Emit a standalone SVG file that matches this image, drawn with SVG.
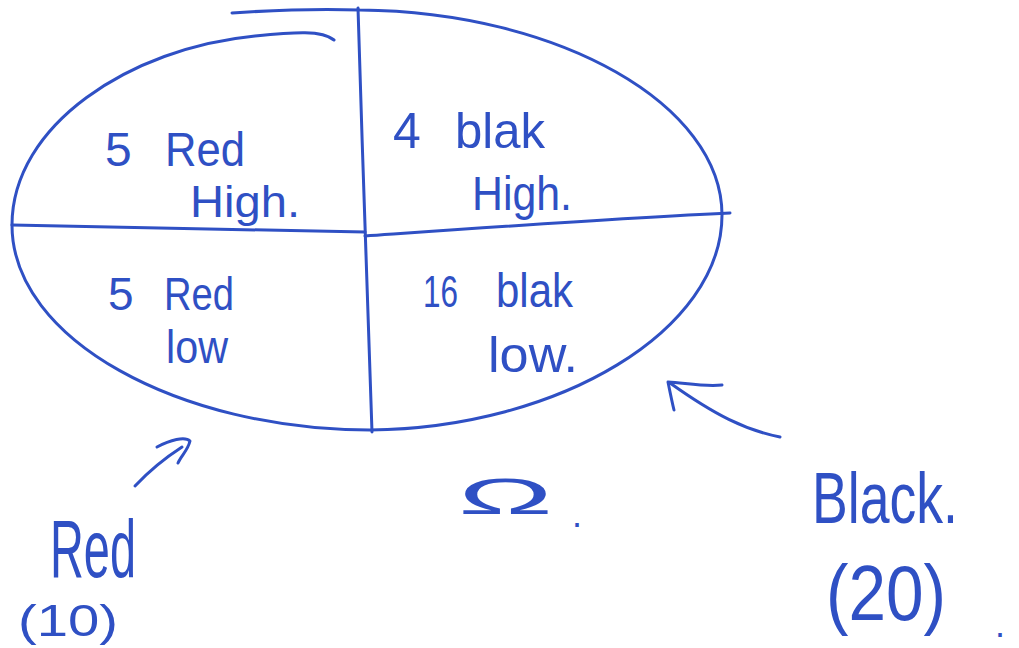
<svg xmlns="http://www.w3.org/2000/svg" width="1019" height="648" viewBox="0 0 1019 648">
<style>
.ink{fill:none;stroke:#2f50c4;stroke-width:3;stroke-linecap:round;stroke-linejoin:round}
.t{fill:#2f50c4;font-family:"Liberation Sans","Noto Sans",sans-serif}
</style>
<rect width="1019" height="648" fill="#ffffff"/>
<g id="ellipse">
<path class="ink" d="M232 13 C290 9 330 9 360 10 C560 12 722 105 722 215 C722 330 560 428 370 430 C180 430 12 340 12 225 C12 125 130 48 255 36 C295 32 322 30 334 40"/>
</g>
<g id="dividers">
<path class="ink" d="M358 8 C362 150 368 300 372 432"/>
<path class="ink" d="M12 225 C120 227 250 230 365 232"/>
<path class="ink" d="M365 236 C480 228 620 218 730 213"/>
</g>
<g id="cell-red-high">
<text class="t" x="105" y="166" font-size="48"><tspan>5</tspan><tspan x="165" textLength="80" lengthAdjust="spacingAndGlyphs">Red</tspan></text>
<text class="t" x="190" y="217" font-size="44" textLength="110" lengthAdjust="spacingAndGlyphs">High.</text>
</g>
<g id="cell-black-high">
<text class="t" x="393" y="148" font-size="50"><tspan>4</tspan><tspan x="455" textLength="90" lengthAdjust="spacingAndGlyphs">blak</tspan></text>
<text class="t" x="472" y="210" font-size="48" textLength="100" lengthAdjust="spacingAndGlyphs">High.</text>
</g>
<g id="cell-red-low">
<text class="t" x="108" y="310" font-size="46"><tspan>5</tspan><tspan x="164" textLength="70" lengthAdjust="spacingAndGlyphs">Red</tspan></text>
<text class="t" x="166" y="363" font-size="46" textLength="62" lengthAdjust="spacingAndGlyphs">low</text>
</g>
<g id="cell-black-low">
<text class="t" x="423" y="307" font-size="44" textLength="35" lengthAdjust="spacingAndGlyphs">16</text>
<text class="t" x="496" y="307" font-size="48" textLength="77" lengthAdjust="spacingAndGlyphs">blak</text>
<text class="t" x="488" y="372" font-size="50" textLength="90" lengthAdjust="spacingAndGlyphs">low.</text>
</g>
<g id="connectors">
<path class="ink" d="M135 486 C150 470 165 458 182 447"/>
<path class="ink" d="M157 447 C170 440 185 436 190 441 C188 450 181 456 178 463"/>
<path class="ink" d="M780 437 C745 430 715 415 670 383"/>
<path class="ink" d="M722 385 C705 387 685 383 668 382 C670 392 672 402 674 410"/>
</g>
<g id="label-red">
<text class="t" x="50" y="577" font-size="82" textLength="86" lengthAdjust="spacingAndGlyphs">Red</text>
<text class="t" x="18" y="636" font-size="44" textLength="100" lengthAdjust="spacingAndGlyphs">(10)</text>
</g>
<g id="label-omega">
<text class="t" x="458" y="514" font-size="50" textLength="95" lengthAdjust="spacingAndGlyphs" font-family="Noto Sans, sans-serif">Ω</text>
<text class="t" x="572" y="527" font-size="36">.</text>
</g>
<g id="label-black">
<text class="t" x="812" y="523" font-size="72" textLength="146" lengthAdjust="spacingAndGlyphs">Black.</text>
<text class="t" x="826" y="620" font-size="78" textLength="120" lengthAdjust="spacingAndGlyphs">(20)</text>
<text class="t" x="995" y="637" font-size="36">.</text>
</g>
</svg>
